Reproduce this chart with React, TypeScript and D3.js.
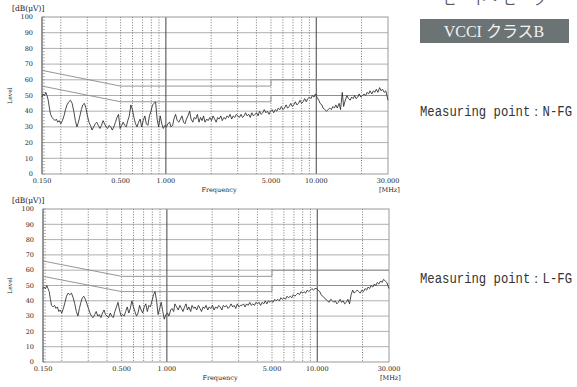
import React, { useRef, useEffect } from 'react'
import * as d3 from 'd3'

// measurement frequencies [MHz], shared by both traces
const freqs = [
  0.150, 0.153, 0.156, 0.159, 0.162, 0.165, 0.168, 0.171, 0.175, 0.179,
  0.183, 0.187, 0.191, 0.195, 0.200, 0.205, 0.210, 0.215, 0.220, 0.226,
  0.232, 0.238, 0.244, 0.250, 0.256, 0.262, 0.268, 0.274, 0.280, 0.287,
  0.294, 0.301, 0.308, 0.315, 0.323, 0.331, 0.339, 0.347, 0.355, 0.364,
  0.373, 0.382, 0.391, 0.400, 0.410, 0.420, 0.430, 0.440, 0.451, 0.462,
  0.473, 0.484, 0.496, 0.508, 0.520, 0.532, 0.545, 0.558, 0.571, 0.585,
  0.599, 0.613, 0.628, 0.643, 0.658, 0.674, 0.690, 0.707, 0.724, 0.741,
  0.759, 0.777, 0.796, 0.815, 0.834, 0.854, 0.874, 0.895, 0.917, 0.939,
  0.961, 0.984, 1.01, 1.03, 1.06, 1.08, 1.11, 1.13, 1.16, 1.19,
  1.22, 1.25, 1.28, 1.31, 1.34, 1.37, 1.40, 1.44, 1.47, 1.51,
  1.54, 1.58, 1.62, 1.66, 1.70, 1.74, 1.78, 1.82, 1.87, 1.91,
  1.96, 2.01, 2.06, 2.11, 2.16, 2.21, 2.26, 2.32, 2.37, 2.43,
  2.49, 2.55, 2.61, 2.67, 2.74, 2.80, 2.87, 2.94, 3.01, 3.08,
  3.16, 3.23, 3.31, 3.39, 3.47, 3.56, 3.64, 3.73, 3.82, 3.91,
  4.01, 4.10, 4.20, 4.30, 4.41, 4.51, 4.62, 4.73, 4.85, 4.96,
  5.08, 5.21, 5.33, 5.46, 5.59, 5.73, 5.86, 6.01, 6.15, 6.30,
  6.45, 6.61, 6.77, 6.93, 7.09, 7.26, 7.44, 7.62, 7.80, 7.99,
  8.18, 8.38, 8.58, 8.78, 9.00, 9.21, 9.43, 9.66, 9.89, 10.1,
  10.4, 10.6, 10.9, 11.1, 11.4, 11.7, 12.0, 12.3, 12.6, 12.9,
  13.2, 13.5, 13.8, 14.2, 14.5, 14.9, 15.2, 15.6, 16.0, 16.4,
  16.8, 17.2, 17.6, 18.0, 18.4, 18.9, 19.3, 19.8, 20.3, 20.8,
  21.3, 21.8, 22.3, 22.8, 23.4, 24.0, 24.5, 25.1, 25.7, 26.4,
  27.0, 27.6, 28.3, 29.0, 29.5, 30.0,
]

// level [dB(uV)] at N-FG
const levelNFG = [
  49, 51, 50, 52, 50, 47, 42, 38, 36, 35,
  34, 35, 33, 34, 32, 34, 37, 41, 44, 46,
  47, 45, 40, 34, 30, 33, 37, 41, 44, 45,
  42, 37, 33, 31, 28, 30, 32, 33, 31, 29,
  31, 34, 32, 30, 29, 31, 30, 28, 30, 33,
  36, 38, 29, 31, 33, 31, 30, 34, 37, 44,
  41, 36, 32, 30, 33, 35, 30, 34, 37, 32,
  31, 37, 40, 44, 45, 46, 35, 30, 37, 32,
  29, 31, 30, 32, 33, 30, 31, 35, 38, 34,
  33, 35, 37, 33, 32, 35, 37, 40, 35, 33,
  36, 35, 38, 33, 36, 34, 37, 33, 35, 34,
  36, 34, 37, 35, 33, 36, 35, 37, 34, 36,
  35, 37, 36, 38, 35, 37, 36, 38, 37, 36,
  38, 36, 37, 39, 37, 38, 36, 39, 37, 38,
  39, 37, 40, 38, 39, 41, 39, 40, 38, 40,
  41, 39, 41, 40, 42, 41, 43, 41, 42, 44,
  42, 43, 45, 43, 44, 46, 44, 45, 47, 45,
  46, 48, 46, 48, 49, 48, 50, 49, 51, 49,
  47, 45, 44, 42, 41, 40, 41, 42, 41, 43,
  42, 44, 42, 45, 41, 52, 43, 47, 50, 48,
  47, 49, 48, 50, 48, 49, 51, 49, 50, 51,
  50, 52, 51, 53, 51, 53, 52, 54, 52, 55,
  53, 54, 52, 53, 50, 47,
]

// level [dB(uV)] at L-FG
const levelLFG = [
  48, 49, 48, 50, 48, 46, 41, 37, 36, 37,
  35, 36, 33, 34, 32, 35, 39, 43, 45, 44,
  45, 42, 38, 33, 30, 35, 39, 42, 43, 41,
  38, 35, 32, 30, 29, 31, 33, 30, 31, 29,
  32, 34, 31, 30, 29, 32, 30, 29, 33, 36,
  39, 34, 30, 31, 30, 33, 36, 32, 35, 40,
  36, 33, 30, 32, 37, 34, 32, 36, 38, 33,
  37, 36, 40, 44, 46, 40, 31, 35, 39, 33,
  28, 31, 32, 30, 34, 35, 33, 38, 36, 34,
  37, 35, 33, 36, 38, 34, 36, 33, 37, 35,
  36, 34, 37, 35, 33, 36, 35, 37, 34, 36,
  35, 37, 34, 36, 35, 37, 36, 34, 37, 36,
  37, 35, 36, 38, 36, 37, 35, 38, 36, 37,
  37, 38, 36, 38, 37, 39, 37, 38, 37, 39,
  38, 39, 37, 39, 38, 40, 38, 40, 39, 40,
  39, 41, 40, 41, 40, 42, 41, 42, 41, 43,
  42, 43, 42, 44, 43, 44, 45, 44, 46, 45,
  46, 45, 47, 46, 47, 48, 47, 48, 48, 47,
  46, 44, 43, 42, 41, 40, 39, 41, 40, 39,
  40, 38, 39, 41, 39, 40, 38, 39, 41, 38,
  44, 47, 45, 46, 47, 46, 45, 47, 46, 48,
  47, 49, 48, 50, 49, 51, 50, 52, 51, 53,
  52, 54, 53, 52, 50, 48,
]

// VCCI class B limits: quasi-peak and average
const qpLimit: [number, number][] = [[0.15, 66], [0.5, 56], [5, 56], [5, 60], [30, 60]]
const avLimit: [number, number][] = [[0.15, 56], [0.5, 46], [5, 46], [5, 50], [30, 50]]

const yTicks = [0, 10, 20, 30, 40, 50, 60, 70, 80, 90, 100]
const xTickValues = [0.15, 0.5, 1, 5, 10, 30]
const xTickLabels = ['0.150', '0.500', '1.000', '5.000', '10.000', '30.000']
const dottedFreqs = [0.2, 0.3, 0.4, 0.5, 0.6, 0.7, 0.8, 0.9, 2, 3, 4, 5, 6, 7, 8, 9, 20]
const solidFreqs = [1, 10]

const panels = [
  { levels: levelNFG, left: 42, right: 388, top: 17, bottom: 174, note: 'Measuring point：N-FG', noteY: 116 },
  { levels: levelLFG, left: 43, right: 389, top: 209, bottom: 362, note: 'Measuring point：L-FG', noteY: 283 },
]

const W = 577
const H = 387
const serif = '"DejaVu Serif", serif'
const ink = '#222'

const App: React.FC = () => {
  const svgRef = useRef<SVGSVGElement | null>(null)

  useEffect(() => {
    if (!svgRef.current) return
    const svg = d3.select(svgRef.current)
    svg.selectAll('*').remove()

    svg.append('rect').attr('width', W).attr('height', H).attr('fill', '#fff')

    panels.forEach(p => {
      const x = d3.scaleLog().domain([0.15, 30]).range([p.left, p.right])
      const y = d3.scaleLinear().domain([0, 100]).range([p.bottom, p.top])
      const g = svg.append('g')

      // horizontal grid
      g.selectAll('line.hgrid')
        .data(yTicks.slice(1, -1))
        .join('line')
        .attr('x1', p.left).attr('x2', p.right)
        .attr('y1', d => y(d)).attr('y2', d => y(d))
        .attr('stroke', '#b0b0b0')
        .attr('stroke-width', 1)

      // dotted decade subdivisions
      g.selectAll('line.vdot')
        .data(dottedFreqs)
        .join('line')
        .attr('x1', d => x(d)).attr('x2', d => x(d))
        .attr('y1', p.top).attr('y2', p.bottom)
        .attr('stroke', '#555')
        .attr('stroke-width', 0.8)
        .attr('stroke-dasharray', '1,1.6')

      g.selectAll('line.vsolid')
        .data(solidFreqs)
        .join('line')
        .attr('x1', d => x(d)).attr('x2', d => x(d))
        .attr('y1', p.top).attr('y2', p.bottom)
        .attr('stroke', '#444')
        .attr('stroke-width', 1)

      // frame
      g.append('rect')
        .attr('x', p.left).attr('y', p.top)
        .attr('width', p.right - p.left).attr('height', p.bottom - p.top)
        .attr('fill', 'none')
        .attr('stroke', '#999')
      g.append('line')
        .attr('x1', p.left).attr('x2', p.left)
        .attr('y1', p.top).attr('y2', p.bottom)
        .attr('stroke', '#666')

      // minor ticks on the level axis
      g.selectAll('line.minor')
        .data(d3.range(0, 101, 2))
        .join('line')
        .attr('x1', p.left).attr('x2', p.left + 3)
        .attr('y1', d => y(d)).attr('y2', d => y(d))
        .attr('stroke', '#888')
        .attr('stroke-width', 0.6)

      // limit lines
      const line = d3.line<[number, number]>().x(d => x(d[0])).y(d => y(d[1]))
      ;[qpLimit, avLimit].forEach(lim => {
        g.append('path')
          .attr('d', line(lim)!)
          .attr('fill', 'none')
          .attr('stroke', '#8a8a8a')
          .attr('stroke-width', 0.9)
      })

      // measured trace
      const pts = d3.zip(freqs, p.levels) as [number, number][]
      g.append('path')
        .attr('d', line(pts)!)
        .attr('fill', 'none')
        .attr('stroke', '#2a2a2a')
        .attr('stroke-width', 0.85)
        .attr('stroke-linejoin', 'round')

      const label = (sel: d3.Selection<any, any, any, any>, size: string) =>
        sel.style('font-family', serif).style('font-size', size).attr('fill', ink)

      // y tick labels
      g.selectAll('text.ytick')
        .data(yTicks)
        .join('text')
        .attr('x', p.left - 9)
        .attr('y', d => y(d))
        .attr('dy', '0.35em')
        .attr('text-anchor', 'end')
        .call(label, '6.5px')
        .text(d => d)

      // x tick labels
      g.selectAll('text.xtick')
        .data(xTickValues)
        .join('text')
        .attr('x', d => x(d))
        .attr('y', p.bottom + 9)
        .attr('text-anchor', 'middle')
        .call(label, '6.5px')
        .text((_, i) => xTickLabels[i])

      g.append('text')
        .attr('x', (p.left + p.right) / 2 + 4)
        .attr('y', p.bottom + 18)
        .attr('text-anchor', 'middle')
        .call(label, '6.5px')
        .text('Frequency')

      g.append('text')
        .attr('x', p.right - 9)
        .attr('y', p.bottom + 18)
        .call(label, '6.5px')
        .text('[MHz]')

      g.append('text')
        .attr('x', 12)
        .attr('y', p.top - 6)
        .call(label, '7.5px')
        .text('[dB(μV)]')

      g.append('text')
        .attr('transform', `translate(12,${(p.top + p.bottom) / 2}) rotate(-90)`)
        .attr('text-anchor', 'middle')
        .call(label, '6px')
        .text('Level')

      // measuring point note
      svg.append('text')
        .attr('x', 420)
        .attr('y', p.noteY)
        .attr('textLength', 152)
        .attr('lengthAdjust', 'spacingAndGlyphs')
        .style('font-family', '"Liberation Mono", monospace')
        .style('font-size', '14px')
        .attr('fill', '#333')
        .text(p.note)
    })

    // header on the right, cut by the top edge
    svg.append('text')
      .attr('x', 443)
      .attr('y', 4)
      .attr('letter-spacing', 1)
      .style('font-family', '"Noto Sans CJK JP", sans-serif')
      .style('font-size', '14px')
      .attr('fill', '#555')
      .text('ピート・ピーク')

    svg.append('rect')
      .attr('x', 420).attr('y', 19)
      .attr('width', 149).attr('height', 24)
      .attr('fill', '#6b7375')

    svg.append('text')
      .attr('x', 494)
      .attr('y', 37)
      .attr('text-anchor', 'middle')
      .style('font-family', '"Liberation Serif", "Noto Sans CJK JP", serif')
      .style('font-size', '16px')
      .attr('fill', '#f2f2f2')
      .text('VCCI クラスB')
  }, [])

  return (
    <svg
      ref={svgRef}
      width={W}
      height={H}
      style={{ position: 'absolute', left: 0, top: 0 }}
    />
  )
}

export default App
